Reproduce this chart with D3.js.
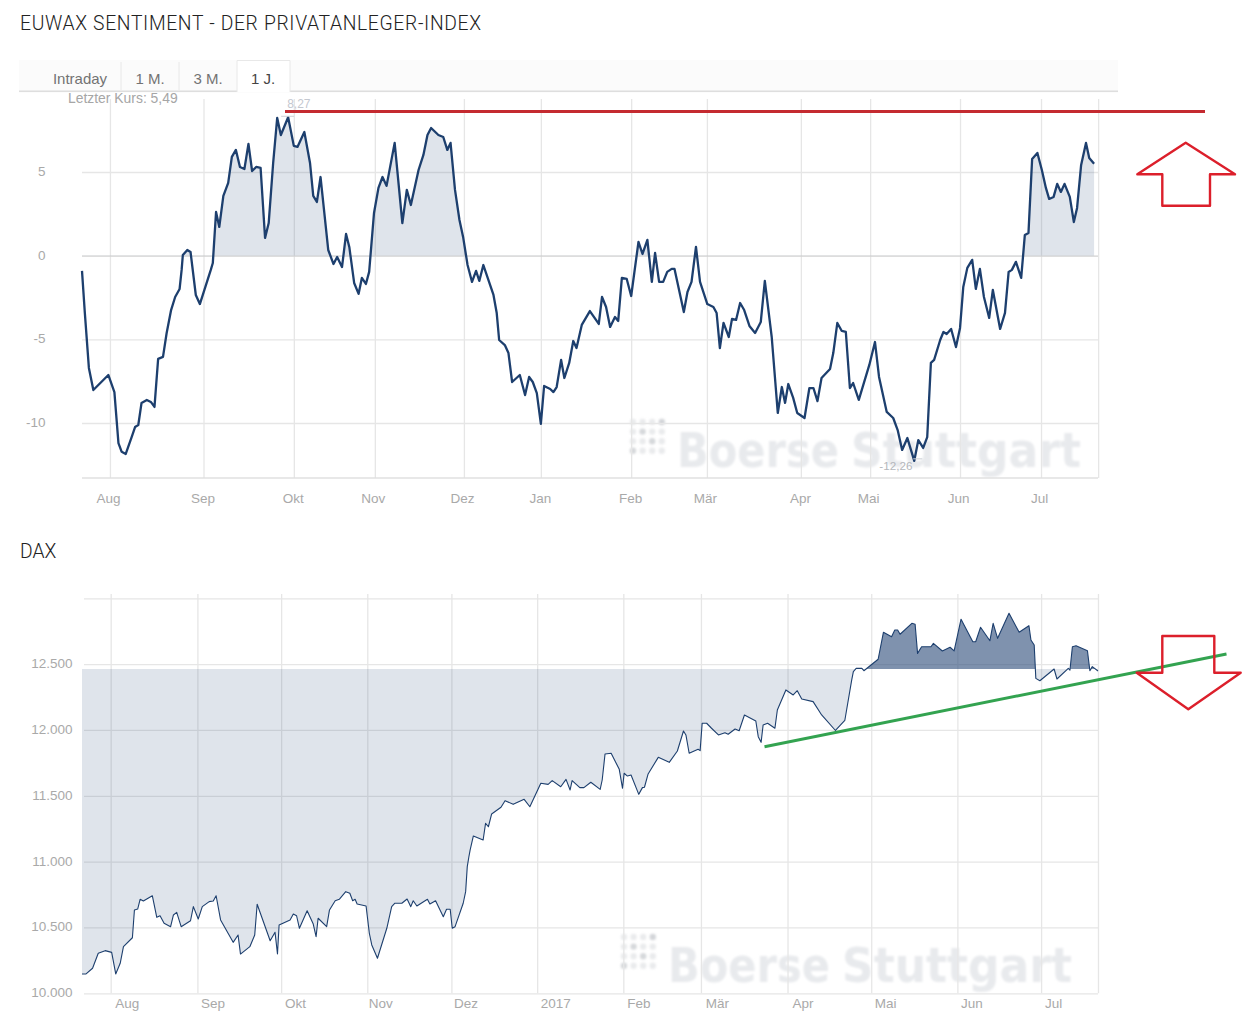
<!DOCTYPE html>
<html lang="de">
<head>
<meta charset="utf-8">
<title>EUWAX Sentiment und DAX</title>
<script src="https://cdn.jsdelivr.net/npm/d3@7/dist/d3.min.js"></script>
<style>
html,body{margin:0;padding:0;background:#fff;}
svg{display:block;}
text{font-family:"Liberation Sans",Arial,sans-serif;}
</style>
</head>
<body>
<svg id="chart" width="1256" height="1020" viewBox="0 0 1256 1020"></svg>
<script>
// Trading-day position and value of each turning point
const sentimentDays = [0,0.7,1.7,2.8,6.5,8,9,9.8,10.8,12.3,13.1,13.9,14.7,16,17,17.9,18.8,20,20.9,22,23,24.1,24.6,24.9,26,26.8,28.1,29.1,31.8,32.3,33.1,33.9,34.9,36.1,37,38,39,40.1,41.1,42,43,44.1,45.2,46.1,47.2,48.2,49.1,50.9,52.3,53.2,54.9,56.3,57.1,58,58.9,60.8,62.1,63,64.2,65.2,66,67.2,68.3,69.1,70.1,70.9,72.1,73.2,74.2,75.2,77.2,79.1,80.2,81.2,83.1,84.3,85.3,86.2,88,89.2,90.2,91,92.1,93.2,94.1,95.2,96.3,97.3,98.1,99.1,101.6,102.4,103,104.4,105.3,106.2,108.1,109.4,110.4,111.3,112.3,113.3,114.1,115.6,116.4,117.2,118.3,119.1,120.3,121.3,122.1,123.4,125.4,127.6,128.4,129.4,130.4,131.6,132.4,133.3,134.5,135.6,137.4,138.4,139.6,140.7,141.5,142.5,143.5,144.5,145.6,146.3,148.6,149.5,150.5,151.6,152.6,154.4,155.9,156.7,157.5,158.4,159.7,160.5,161.5,162.5,163.5,164.8,166.2,167.6,168.6,170.3,171.8,172.8,173.6,174.4,175.6,176.6,178.4,179.6,180.6,181.6,182.6,184.7,185.5,186.5,187.6,188.6,189.6,190.4,191.8,194.4,195.8,196.8,198.7,200.3,201.4,202.5,203.8,205.5,206.5,207.7,208.7,209.6,210.4,211.9,212.7,213.5,214.6,215.8,216.8,217.6,218.6,219.8,220.7,221.7,222.7,224,224.9,226.7,227.9,228.8,229.6,230.6,231.9,232.8,233.7,234.6,235.9,237,238,238.8,239.9,240.8,241.7,242.6,243.9,244.9,245.7,246.7,247.9,248.7,249.9];
const sentimentValues = [-0.91,-3.42,-6.71,-8.03,-7.13,-8.15,-11.2,-11.72,-11.85,-10.82,-10.24,-10.12,-8.8,-8.62,-8.74,-9.04,-6.17,-6.05,-4.62,-3.25,-2.47,-1.99,-0.85,0.04,0.34,0.22,-2.35,-2.89,-0.85,-0.44,2.61,1.72,3.57,4.35,5.9,6.32,5.3,5.18,6.68,5.06,5.3,5.24,1.06,1.95,5.54,8.23,7.21,8.27,6.56,6.5,7.39,5.54,3.57,3.21,4.7,0.34,-0.5,-0.08,-0.68,1.3,0.52,-1.63,-2.28,-1.33,-1.69,-0.97,2.55,4.05,4.7,4.17,6.74,1.95,3.93,3.03,5.12,6.02,7.21,7.63,7.21,7.09,6.32,6.74,3.93,2.13,1.12,-0.56,-1.57,-0.91,-1.51,-0.56,-2.35,-3.43,-5.04,-5.34,-5.82,-7.55,-7.13,-8.33,-7.25,-7.55,-8.21,-10.05,-7.79,-7.97,-8.15,-7.85,-6.23,-7.31,-6.41,-5.1,-5.52,-4.14,-3.31,-4.08,-2.47,-3.07,-4.26,-3.66,-3.9,-1.33,-1.39,-2.41,0.82,0.1,0.94,-1.57,0.16,-1.57,-1.57,-0.97,-0.79,-0.79,-3.37,-2.17,-1.57,0.52,-1.57,-2.89,-3.07,-3.43,-5.52,-4.02,-4.86,-3.78,-3.84,-2.83,-3.25,-4.2,-4.62,-3.96,-1.51,-4.86,-9.4,-7.85,-8.8,-7.67,-8.5,-9.4,-9.7,-7.91,-7.91,-8.69,-7.31,-6.77,-5.82,-4.02,-4.5,-4.56,-7.91,-7.61,-8.62,-6.53,-5.16,-7.25,-9.34,-9.7,-10.42,-11.61,-10.9,-12.26,-11.02,-11.49,-10.84,-6.41,-6.23,-5.04,-4.56,-4.68,-4.38,-5.46,-4.32,-1.87,-0.73,-0.25,-1.99,-0.79,-2.47,-3.72,-2.05,-4.38,-3.42,-0.97,-0.85,-0.37,-1.33,1.24,1.36,5.78,6.14,5.12,4.05,3.39,3.51,4.29,3.81,4.29,3.51,2.01,2.85,5.42,6.74,5.84,5.49];
const daxDays = [0,1,2.6,4,5.7,7.3,8.3,9.4,10.2,12.4,12.9,13.7,14.3,15.1,17.3,18.4,19.2,20.2,21.8,22.5,23.3,24.4,26.7,27.4,28.6,29.6,31.3,32.3,33,34.1,37.2,38.4,39,41.3,42.5,43.1,46.3,47.5,48.1,48.5,51.2,52,52.8,53.5,55.4,56.9,57.6,58.1,60.2,60.9,62.3,63.3,64.9,65.9,66.6,67.2,67.7,69.9,70.7,71.3,72.7,75,76.2,77,78.7,80,80.9,81.5,82.4,85,85.6,87,88.9,89.7,90.6,91.1,91.8,93.8,94.4,94.8,95.2,95.5,96.3,98.7,99.3,100,100.8,103.1,104.1,106.1,108.8,110.2,112.9,114.7,115.7,117.8,119.1,120.1,120.6,122.5,123.5,125.2,127.5,128,128.7,130.2,132.2,133,133.4,134.2,135.1,137,137.9,138.4,139.3,141.8,144.5,146.5,148,148.6,149.4,151.6,152.1,152.6,153.7,154.9,156.6,158.2,159,160.7,161.7,163,165.8,166.4,167.1,167.6,168.7,170.5,171.1,173.2,175,176,177.1,179.9,182,185.4,187.7,189.4,189.8,190.5,191.9,192.4,195.9,197.2,199.2,200,200.7,201.3,204.2,205,205.6,206.6,208.9,209.5,211.7,213.6,214.6,216.3,219.2,219.9,221.1,223.4,224.2,225.3,228.1,230.6,233,233.5,234.3,234.7,235.7,239.2,239.9,242.7,243.1,243.7,244.6,247.4,248,248.6,250];
const daxValues = [10147,10147,10190,10304,10324,10311,10147,10228,10354,10422,10633,10640,10714,10701,10741,10577,10589,10532,10506,10595,10615,10506,10551,10658,10564,10658,10696,10701,10741,10557,10387,10443,10298,10354,10443,10676,10399,10463,10298,10519,10557,10602,10589,10494,10627,10526,10430,10570,10506,10633,10703,10714,10772,10760,10703,10714,10678,10663,10456,10367,10266,10494,10658,10684,10684,10716,10658,10703,10663,10714,10678,10703,10582,10638,10638,10494,10506,10684,10772,10962,11037,11088,11195,11164,11291,11265,11362,11413,11463,11435,11473,11417,11595,11587,11615,11569,11625,11544,11615,11562,11562,11603,11549,11620,11817,11823,11701,11557,11671,11650,11658,11511,11562,11565,11666,11792,11754,11840,11992,11962,11823,11853,11843,12051,12051,12013,11962,11979,11967,12007,11994,12114,12068,11949,11906,12038,12051,12013,12152,12304,12266,12298,12235,12215,12114,11996,12072,12380,12443,12468,12468,12450,12537,12742,12708,12759,12759,12727,12810,12803,12582,12632,12632,12658,12600,12628,12600,12841,12670,12670,12780,12678,12810,12696,12886,12742,12792,12683,12645,12392,12374,12463,12387,12468,12455,12632,12640,12602,12450,12481,12448];

const sentimentMonthDays = [6.9,30,52.3,72.3,94.3,113.3,135.6,154.3,177.5,194.6,216.8,236.8,250.9];
const sentimentMonthLabels = ["Aug","Sep","Okt","Nov","Dez","Jan","Feb","Mär","Apr","Mai","Jun","Jul",""];
const daxMonthDays = [7.06,28.4,49,70.2,90.9,112,133.2,152.3,173.6,194.2,215.4,236,250];
const daxMonthLabels = ["Aug","Sep","Okt","Nov","Dez","2017","Feb","Mär","Apr","Mai","Jun","Jul",""];
const sentimentTicks = [-10,-5,0,5];
const daxGridTicks = [10000,10500,11000,11500,12000,12500,13000];
const daxLabelTicks = [10000,10500,11000,11500,12000,12500];
const sentimentBaseline = 0;
const daxBaseline = 12463;
const tabLabels = ["Intraday","1 M.","3 M.","1 J."];
const sentimentHigh = 8.27;
const sentimentLow = -12.26;
const sentimentLast = "5,49";

const GRID = "#e6e6e6", LABEL = "#a9a9a9", LINE = "#1d3f6e", FILL = "#294a78";
const svg = d3.select("#chart");
const defs = svg.append("defs");
defs.append("filter").attr("id","wmBlur").append("feGaussianBlur").attr("stdDeviation",1.1);

const de = d3.formatLocale({decimal:",",thousands:".",grouping:[3],currency:["","€"],minus:"-"});

function watermark(g, textX, baseY){
  const wm = g.append("g").attr("filter","url(#wmBlur)");
  const dotShades = [
    [.35,.35,.35,.75],
    [.35,.7,.35,.35],
    [.35,.35,.7,.35],
    [.7,.35,.35,.35]];
  const dots = dotShades.flatMap((row,r)=>row.map((o,c)=>({r,c,o})));
  wm.selectAll("circle").data(dots).join("circle")
    .attr("cx",d=>textX-43+d.c*9.6).attr("cy",d=>baseY-45+d.r*9.6)
    .attr("r",3.2).attr("fill","#c4c7cc").attr("opacity",d=>d.o);
  const parts = [
    {s:"Boerse",dx:1,len:162},
    {s:"Stuttgart",dx:175,len:230}];
  wm.selectAll("text").data(parts).join("text")
    .attr("x",d=>textX+d.dx).attr("y",baseY)
    .style("font-family","DejaVu Sans, sans-serif").attr("font-weight",700)
    .attr("font-size",48).attr("textLength",d=>d.len).attr("lengthAdjust","spacingAndGlyphs")
    .attr("fill","#e8eaed").text(d=>d.s);
}

function panel(o){
  const g = svg.append("g");
  const x = d3.scaleLinear().domain([0,250]).range(o.xRange);
  const y = d3.scaleLinear().domain(o.yDomain).range(o.yRange);
  const points = o.days.map((d,i)=>({d,v:o.values[i]}));

  watermark(g,o.wmX,o.wmY);

  // vertical grid and month labels
  const xAxis = d3.axisBottom(x).tickValues(o.monthDays)
    .tickFormat((d,i)=>o.monthLabels[i]).tickSize(o.bottom-o.top).tickPadding(0);
  const xg = g.append("g").attr("transform",`translate(0,${o.top})`).call(xAxis);
  xg.select(".domain").remove();
  xg.selectAll("line").attr("stroke",GRID).attr("stroke-width",1.3);
  xg.selectAll("text").attr("fill",LABEL).attr("font-size",13.5)
    .attr("text-anchor","middle").attr("dx",(d,i)=>o.labelDx[i]).attr("y",o.bottom-o.top+o.labelGap).attr("dy",0);

  // horizontal grid
  const gridAxis = d3.axisRight(y).tickValues(o.ticks).tickSize(1098-o.gridX).tickFormat("");
  const gg = g.append("g").attr("transform",`translate(${o.gridX},0)`).call(gridAxis);
  gg.select(".domain").remove();
  gg.selectAll("line").attr("stroke",d=>d===o.strongTick?"#d2d2d2":GRID).attr("stroke-width",1.3);

  // value labels
  const yg = g.append("g").attr("transform",`translate(${o.labelX},0)`)
    .call(d3.axisLeft(y).tickValues(o.labelTicks).tickSize(0).tickPadding(0).tickFormat(o.format));
  yg.select(".domain").remove();
  yg.selectAll("text").attr("fill",LABEL).attr("font-size",13.5).attr("dy","0.25em");

  // shaded areas between series and baseline
  const area = d3.area().x(d=>x(d.d)).y0(y(o.baseline)).y1(d=>y(d.v));
  const by = y(o.baseline);
  defs.append("clipPath").attr("id",o.id+"Above").append("rect")
    .attr("x",0).attr("y",0).attr("width",1256).attr("height",by);
  defs.append("clipPath").attr("id",o.id+"Below").append("rect")
    .attr("x",0).attr("y",by).attr("width",1256).attr("height",1020-by);
  g.append("path").datum(points).attr("d",area).attr("clip-path",`url(#${o.id}Above)`)
    .attr("fill",FILL).attr("fill-opacity",o.aboveOpacity);
  g.append("path").datum(points).attr("d",area).attr("clip-path",`url(#${o.id}Below)`)
    .attr("fill",FILL).attr("fill-opacity",o.belowOpacity);

  // series
  g.append("path").datum(points).attr("fill","none").attr("stroke",LINE)
    .attr("stroke-width",o.lineWidth).attr("stroke-linejoin","round")
    .attr("d",d3.line().x(d=>x(d.d)).y(d=>y(d.v)));
  return {g,x,y,points};
}

// Titles
svg.append("text").attr("x",20).attr("y",30).style("font-family","Roboto, sans-serif")
  .attr("font-size",19.3).attr("font-weight",300)
  .attr("textLength",461).attr("lengthAdjust","spacing").attr("fill","#222")
  .text("EUWAX SENTIMENT - DER PRIVATANLEGER-INDEX");
svg.append("text").attr("x",20).attr("y",558).style("font-family","Roboto, sans-serif")
  .attr("font-size",19.3).attr("font-weight",300).attr("fill","#222").text("DAX");

// Tab strip
const tabs = svg.append("g");
tabs.append("rect").attr("x",19).attr("y",60).attr("width",1099).attr("height",31).attr("fill","#fbfbfb");
tabs.append("rect").attr("x",19).attr("y",90.5).attr("width",1099).attr("height",1.6).attr("fill","#dedede");
tabs.append("path").attr("d","M237,92V60.5H290V92").attr("fill","#fff").attr("stroke","#e8e8e8");
tabs.selectAll("line").data([121,179]).join("line")
  .attr("x1",d=>d).attr("x2",d=>d).attr("y1",62).attr("y2",90).attr("stroke","#e8e8e8");
const tabCentres = [80,150,208,263];
tabs.selectAll("text").data(tabLabels).join("text")
  .attr("x",(d,i)=>tabCentres[i]).attr("y",84).attr("text-anchor","middle")
  .attr("font-size",15).attr("fill",(d,i)=>i===3?"#444":"#737373").text(d=>d);

// Upper panel
const top1 = panel({
  id:"sent", days:sentimentDays, values:sentimentValues, monthDays:sentimentMonthDays, monthLabels:sentimentMonthLabels,
  ticks:sentimentTicks, labelTicks:sentimentTicks, strongTick:0, baseline:sentimentBaseline,
  xRange:[82,1094.5], yDomain:[-10,5], yRange:[423,172], top:99, bottom:478, gridX:82, labelX:45.5,
  labelDx:[-2,-1,-1,-2,-2,-1,-1,-2,-1,-2,-2,-2,0], labelGap:25, format:d=>String(d), lineWidth:2.3, aboveOpacity:.15, belowOpacity:0,
  wmX:676, wmY:467
});
svg.append("rect").attr("x",82).attr("y",477.3).attr("width",1016).attr("height",1.4).attr("fill","#dedede");
svg.append("text").attr("x",68).attr("y",103).attr("font-size",13.9).attr("fill","#a6a6a6")
  .text("Letzter Kurs: "+sentimentLast);
const hiX = top1.x(sentimentDays[sentimentValues.indexOf(sentimentHigh)]);
const loX = top1.x(sentimentDays[sentimentValues.indexOf(sentimentLow)]);
svg.append("text").attr("x",hiX-1).attr("y",top1.y(sentimentHigh)-9).attr("font-size",12)
  .attr("fill","#c4c8d0").text(de.format(".2f")(sentimentHigh));
svg.append("text").attr("x",loX-35).attr("y",top1.y(sentimentLow)+9).attr("font-size",11.7)
  .attr("fill","#b4b7bc").text(de.format(".2f")(sentimentLow));
svg.append("line").attr("x1",hiX-7).attr("x2",hiX+6).attr("y1",top1.y(sentimentHigh)-1).attr("y2",top1.y(sentimentHigh)-1).attr("stroke","#ccd0d6");
svg.append("line").attr("x1",loX-1).attr("x2",loX+8).attr("y1",top1.y(sentimentLow)-2).attr("y2",top1.y(sentimentLow)-2).attr("stroke","#ccd0d6");

// Lower panel
panel({
  id:"dax", days:daxDays, values:daxValues, monthDays:daxMonthDays, monthLabels:daxMonthLabels,
  ticks:daxGridTicks, labelTicks:daxLabelTicks, strongTick:null, baseline:daxBaseline,
  xRange:[82,1098], yDomain:[10000,13000], yRange:[993.3,598.3], top:594, bottom:993.3, gridX:84, labelX:72.5,
  labelDx:[16,15,14,13,14,18,15,16,15,14,14,12,0], labelGap:15, format:de.format(",d"), lineWidth:1.1, aboveOpacity:.6, belowOpacity:.15,
  wmX:667, wmY:982
});

// Hand-drawn annotations from the reference
const notes = svg.append("g").attr("fill","none").attr("stroke-linejoin","round");
notes.append("line").attr("x1",285).attr("x2",1205).attr("y1",111.5).attr("y2",111.5)
  .attr("stroke","#c42a30").attr("stroke-width",3);
notes.append("line").attr("x1",764.5).attr("y1",746.7).attr("x2",1226.5).attr("y2",654)
  .attr("stroke","#33a350").attr("stroke-width",3);
notes.append("path").attr("d","M1185.7,142.7L1235,174.3H1210V205.7H1162.3V174.3H1137.3Z")
  .attr("stroke","#dc1f2b").attr("stroke-width",2.4);
notes.append("path").attr("d","M1162.3,636H1214.3V672.7H1240.7L1188.3,709.3L1136.7,672.7H1162.3Z")
  .attr("stroke","#dc1f2b").attr("stroke-width",2.4);
</script>
</body>
</html>
